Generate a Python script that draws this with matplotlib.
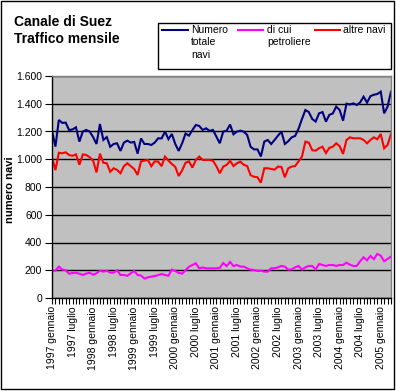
import matplotlib
matplotlib.use("Agg")
import matplotlib.pyplot as plt
from matplotlib.patches import Rectangle
from matplotlib.lines import Line2D
from matplotlib.ticker import FuncFormatter, MultipleLocator

plt.rcParams['font.family'] = ['Liberation Sans', 'DejaVu Sans']

# monthly values, 1997 gennaio .. 2005 aprile
totale = [1206, 1091, 1283, 1262, 1264, 1210, 1215, 1230, 1127, 1200,
          1211, 1200, 1160, 1110, 1254, 1139, 1160, 1090, 1110, 1115,
          1060, 1120, 1134, 1120, 1125, 1040, 1150, 1110, 1110, 1103,
          1120, 1151, 1150, 1199, 1145, 1182, 1110, 1060, 1115, 1185,
          1170, 1210, 1247, 1240, 1211, 1223, 1205, 1211, 1163, 1115,
          1199, 1206, 1250, 1180, 1199, 1206, 1199, 1175, 1090, 1071,
          1071, 1020, 1127, 1139, 1110, 1139, 1170, 1199, 1110, 1130,
          1158, 1168, 1220, 1290, 1355, 1340, 1290, 1272, 1331, 1340,
          1271, 1320, 1330, 1379, 1355, 1278, 1400, 1395, 1403, 1391,
          1410, 1451, 1408, 1455, 1465, 1470, 1487, 1331, 1379, 1487]

petroliere = [197, 197, 226, 205, 200, 175, 180, 182, 175, 166,
              176, 182, 168, 178, 197, 190, 196, 183, 183, 200,
              166, 166, 160, 178, 195, 166, 162, 140, 149, 154,
              158, 165, 173, 166, 160, 205, 195, 181, 175, 200,
              225, 238, 250, 214, 220, 214, 214, 214, 214, 217,
              252, 230, 260, 230, 238, 226, 226, 214, 204, 202,
              195, 197, 190, 190, 214, 214, 221, 231, 226, 204,
              207, 221, 231, 205, 221, 231, 231, 207, 245, 238,
              231, 238, 238, 231, 238, 238, 255, 240, 231, 231,
              265, 293, 272, 303, 280, 318, 305, 265, 282, 298]

altre = [1014, 922, 1047, 1043, 1050, 1030, 1025, 1035, 960, 1035,
         1031, 1015, 990, 905, 1040, 975, 971, 910, 935, 923,
         899, 950, 971, 950, 930, 887, 985, 990, 995, 950,
         985, 983, 950, 1019, 990, 966, 945, 879, 920, 975,
         985, 940, 995, 1019, 995, 995, 995, 990, 950, 899,
         947, 959, 990, 951, 971, 983, 960, 951, 885, 874,
         870, 831, 935, 935, 930, 925, 947, 945, 870, 935,
         947, 951, 985, 1019, 1127, 1120, 1065, 1062, 1080, 1090,
         1045, 1082, 1090, 1115, 1095, 1038, 1139, 1158, 1151, 1151,
         1151, 1139, 1115, 1139, 1158, 1144, 1182, 1079, 1103, 1182]

tick_labels = ["1997 gennaio", "1997 luglio", "1998 gennaio", "1998 luglio",
               "1999 gennaio", "1999 luglio", "2000 gennaio", "2000 luglio",
               "2001 gennaio", "2001 luglio", "2002 gennaio", "2002 luglio",
               "2003 gennaio", "2003 luglio", "2004 gennaio", "2004 luglio",
               "2005 gennaio"]

series_names = ["Numero\ntotale\nnavi", "di cui\npetroliere", "altre navi"]
colors = ["#000080", "#FF00FF", "#FF0000"]

W, H = 396, 391
fig = plt.figure(figsize=(W / 100, H / 100), dpi=100)
fig.patch.set_facecolor("white")


def fx(px):
    return px / W


def fy(py):
    return (H - py) / H


ax = fig.add_axes([fx(52), fy(298), fx(391) - fx(52), fy(76) - fy(298)])
ax.set_facecolor("#C0C0C0")

months = list(range(len(totale)))
for vals, c in zip([totale, petroliere, altre], colors):
    ax.plot(months, vals, color=c, lw=1.5, solid_joinstyle="miter")

ax.set_xlim(0, len(totale) - 1)
ax.set_ylim(0, 1600)
ax.yaxis.set_major_locator(MultipleLocator(200))
ax.yaxis.set_major_formatter(FuncFormatter(lambda v, p: f"{int(v):,}".replace(",", ".")))
ax.grid(axis="y", color="black", lw=1.0)
ax.set_axisbelow(True)

ax.set_xticks(range(0, len(tick_labels) * 6, 6))
ax.set_xticklabels(tick_labels, rotation=90, fontsize=7.5, va="top")
ax.set_xticks(months, minor=True)
ax.tick_params(axis="x", which="both", direction="out", length=4, width=0.8, pad=2)
ax.tick_params(axis="y", direction="out", length=5, width=0.8, labelsize=7.5, pad=2)

for side in ["top", "right"]:
    ax.spines[side].set_color("#808080")
    ax.spines[side].set_linewidth(1.0)
for side in ["left", "bottom"]:
    ax.spines[side].set_color("black")
    ax.spines[side].set_linewidth(1.0)

# y axis title, placed like Excel does it
fig.text(fx(10.5), fy(190), "numero navi", fontsize=8, fontweight="bold",
         rotation=90, ha="center", va="center")

# title
fig.text(fx(14), fy(15), "Canale di Suez\nTraffico mensile", fontsize=10,
         fontweight="bold", ha="left", va="top", linespacing=1.25)

# legend box, drawn by hand to keep Excel's layout
fig.add_artist(Rectangle((fx(158), fy(69)), fx(391) - fx(158), fy(23) - fy(69),
                         transform=fig.transFigure, fill=False, ec="black", lw=1.0))
leg_x = [(162, 188, 191), (238, 263, 267), (315, 340, 343)]
for (x0, x1, xt), name, c in zip(leg_x, series_names, colors):
    fig.add_artist(Line2D([fx(x0), fx(x1)], [fy(30), fy(30)], color=c, lw=1.5,
                          transform=fig.transFigure))
    fig.text(fx(xt), fy(25), name, fontsize=7.5, ha="left", va="top", linespacing=1.3)

# outer chart border
fig.add_artist(Rectangle((fx(1), fy(389)), fx(394) - fx(1), fy(1) - fy(389),
                         transform=fig.transFigure, fill=False, ec="black", lw=1.0))

fig.savefig("out.png", dpi=100)
